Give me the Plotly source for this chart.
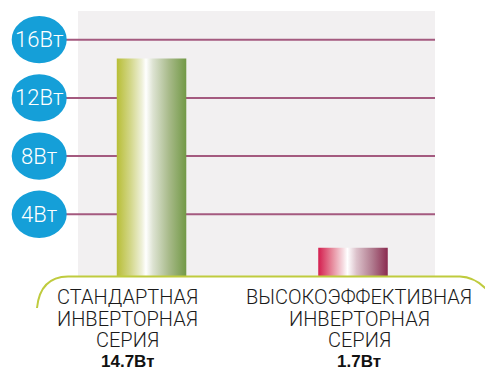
import plotly.graph_objects as go

# --- data -------------------------------------------------------------
category_lines = [
    ["СТАНДАРТНАЯ", "ИНВЕРТОРНАЯ", "СЕРИЯ"],
    ["ВЫСОКОЭФФЕКТИВНАЯ", "ИНВЕРТОРНАЯ", "СЕРИЯ"],
]
values = [14.7, 1.7]
value_unit = "Вт"
tick_values = [4, 8, 12, 16]
tick_labels = ["4Вт", "8Вт", "12Вт", "16Вт"]

# --- styling ----------------------------------------------------------
W, H = 485, 370
ML, MR, MT, MB = 78, 50, 11, 94
PW, PH = W - ML - MR, H - MT - MB
Y_RANGE = [-0.24, 17.97]
X_RANGE = [-0.365, 1.407]
BAR_W = 0.345

bar_scales = [
    [[0.0, "#b8be36"], [0.2, "#d3d78a"], [0.36, "#eef0d8"], [0.42, "#ffffff"],
     [0.52, "#dde3d2"], [0.75, "#a8ba8a"], [1.0, "#729946"]],
    [[0.0, "#d41d4e"], [0.2, "#e68a9c"], [0.36, "#f6dde2"], [0.42, "#ffffff"],
     [0.55, "#dcc2cb"], [0.78, "#b07a8e"], [1.0, "#8a2a4f"]],
]

GRID_COLOR = "#a45a7f"
BLUE = "#159fd8"
CURVE = "#bfcb3e"
FONT = "Roboto, Liberation Sans, Arial, sans-serif"
BOLD_FONT = "Liberation Sans, Arial, sans-serif"


def px_to_paper_x(px):
    return (px - ML) / PW


def px_to_paper_y(py):
    return (MT + PH - py) / PH


fig = go.Figure()

# bars as filled outlines so they can carry a horizontal gradient
base = Y_RANGE[0]
for i, (v, cs) in enumerate(zip(values, bar_scales)):
    x0, x1 = i - BAR_W / 2, i + BAR_W / 2
    fig.add_trace(go.Scatter(
        x=[x0, x0, x1, x1, x0],
        y=[base, v, v, base, base],
        mode="lines",
        line=dict(width=0),
        fill="toself",
        fillgradient=dict(type="horizontal", colorscale=cs),
        hoverinfo="skip",
        showlegend=False,
    ))

shapes = []
annotations = []

# grid lines and the blue value badges on the left
badge_cx = px_to_paper_x(39.2)
badge_rx = 27.5 / PW
badge_ry = 23.7 * (Y_RANGE[1] - Y_RANGE[0]) / PH
for tv in tick_values:
    shapes.append(dict(type="line", xref="paper", yref="y",
                       x0=badge_cx, x1=1.0, y0=tv, y1=tv,
                       line=dict(color=GRID_COLOR, width=2), layer="below"))
for tv, tl in zip(tick_values, tick_labels):
    shapes.append(dict(type="circle", xref="paper", yref="y",
                       x0=badge_cx - badge_rx, x1=badge_cx + badge_rx,
                       y0=tv - badge_ry, y1=tv + badge_ry,
                       fillcolor=BLUE, line=dict(width=0), layer="below"))
    annotations.append(dict(xref="paper", yref="y", x=badge_cx, y=tv,
                            text=tl, showarrow=False,
                            xanchor="center", yanchor="middle",
                            font=dict(family=FONT, size=22, color="white",
                                      weight=300)))

# curved base line under the plot
pts = {
    "a": (37, 308), "c1": (40, 277), "b": (68, 276.5),
    "d": (460, 276.5), "c2": (478, 277), "e": (492, 296),
}
P = {k: (px_to_paper_x(x), px_to_paper_y(y)) for k, (x, y) in pts.items()}
path = ("M {a[0]},{a[1]} Q {c1[0]},{c1[1]} {b[0]},{b[1]} "
        "L {d[0]},{d[1]} Q {c2[0]},{c2[1]} {e[0]},{e[1]}").format(**P)
shapes.append(dict(type="path", xref="paper", yref="paper", path=path,
                   line=dict(color=CURVE, width=2), layer="above"))

# category captions and values
label_cx = [px_to_paper_x(127), px_to_paper_x(359)]
line_mid_px = [296.5, 318.5, 340]
for cx, lines, v in zip(label_cx, category_lines, values):
    for ln, ym in zip(lines, line_mid_px):
        annotations.append(dict(xref="paper", yref="paper", x=cx,
                                y=px_to_paper_y(ym), text=ln, showarrow=False,
                                xanchor="center", yanchor="middle",
                                height=20, borderpad=0,
                                font=dict(family=FONT, size=20, color="#1a1a1a",
                                          weight=300)))
    annotations.append(dict(xref="paper", yref="paper", x=cx,
                            y=px_to_paper_y(361), text="{}{}".format(v, value_unit),
                            showarrow=False, xanchor="center", yanchor="middle",
                            height=17, borderpad=0,
                            font=dict(family=BOLD_FONT, size=17, color="#111111",
                                      weight="bold")))

fig.update_layout(
    width=W, height=H,
    margin=dict(l=ML, r=MR, t=MT, b=MB, pad=0),
    paper_bgcolor="white",
    plot_bgcolor="#f2f0f1",
    shapes=shapes,
    annotations=annotations,
    showlegend=False,
    xaxis=dict(range=X_RANGE, showgrid=False, zeroline=False,
               showticklabels=False, ticks="", fixedrange=True),
    yaxis=dict(range=Y_RANGE, showgrid=False, zeroline=False,
               showticklabels=False, ticks="", fixedrange=True),
)

fig.write_html("out.html")
